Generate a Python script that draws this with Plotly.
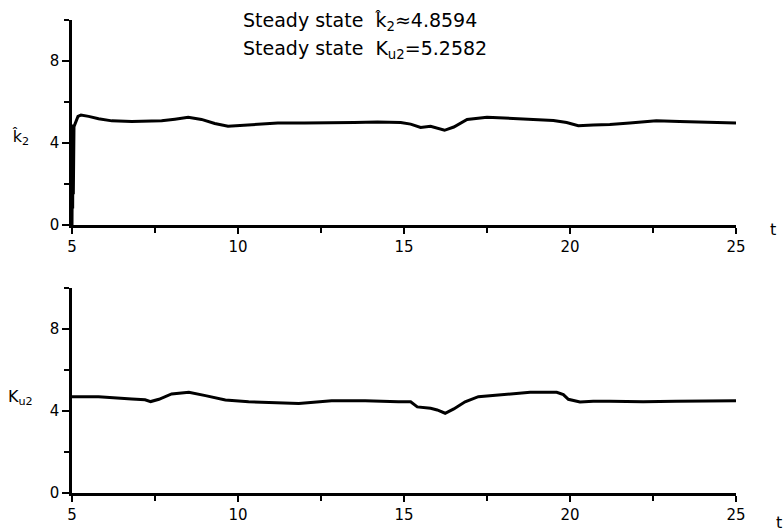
import plotly.graph_objects as go

# k2-hat estimate (top panel)
t_k2 = [5.0, 5.005, 5.01, 5.015, 5.02, 5.03, 5.04, 5.06, 5.1, 5.18, 5.27, 5.5, 5.8, 6.2, 6.8, 7.7, 8.1, 8.5, 8.9, 9.3, 9.7,
        10.3, 11.2, 12.0, 12.7, 13.5, 14.2, 14.9, 15.2, 15.5, 15.8, 16.0, 16.22, 16.5, 16.9, 17.5,
        18.0, 18.5, 19.0, 19.5, 19.9, 20.25, 20.7, 21.2, 21.8, 22.6, 23.3, 24.0, 24.5, 25.0]
k2_hat = [0.0, 4.6, 0.3, 4.9, 0.8, 4.5, 1.5, 4.8, 5.0, 5.3, 5.36, 5.3, 5.18, 5.08, 5.05, 5.08, 5.16, 5.25, 5.15, 4.95, 4.82,
          4.88, 4.97, 4.98, 4.98, 5.0, 5.02, 5.0, 4.92, 4.76, 4.82, 4.72, 4.62, 4.78, 5.15, 5.26,
          5.22, 5.15, 5.12, 5.1, 5.0, 4.84, 4.88, 4.9, 4.98, 5.08, 5.05, 5.03, 5.02, 4.98]

# K_u2 (bottom panel)
t_ku2 = [5.0, 5.8, 6.8, 7.2, 7.37, 7.62, 8.0, 8.52, 9.02, 9.62, 10.32, 11.32, 11.83, 12.82, 13.83, 14.83,
         15.2, 15.4, 15.8, 16.0, 16.24, 16.5, 16.84, 17.24, 17.7, 18.23, 18.8, 19.3, 19.6, 19.8, 19.95,
         20.3, 20.7, 21.2, 22.2, 23.2, 24.2, 25.0]
ku2 = [4.70, 4.70, 4.59, 4.55, 4.46, 4.57, 4.83, 4.91, 4.75, 4.54, 4.45, 4.41, 4.37, 4.50, 4.50, 4.45,
       4.45, 4.20, 4.13, 4.05, 3.89, 4.10, 4.45, 4.70, 4.76, 4.83, 4.91, 4.92, 4.91, 4.80, 4.57,
       4.44, 4.48, 4.48, 4.45, 4.48, 4.50, 4.50]

x_ticks = [5, 10, 15, 20, 25]
y_ticks = [0, 4, 8]

fig = go.Figure()
fig.add_trace(go.Scatter(x=t_k2, y=k2_hat, mode="lines", line=dict(color="black", width=3),
                         xaxis="x", yaxis="y", showlegend=False))
fig.add_trace(go.Scatter(x=t_ku2, y=ku2, mode="lines", line=dict(color="black", width=3),
                         xaxis="x2", yaxis="y2", showlegend=False))

W, H = 784, 531
xdom = [72 / W, 736 / W]
font = dict(family="DejaVu Sans", size=15, color="black")

def xax(anchor):
    return dict(domain=xdom, anchor=anchor, range=[5, 25], tickvals=x_ticks, ticks="outside",
                ticklen=6, tickwidth=2, tickcolor="black", showline=True, linecolor="black",
                linewidth=2.5, showgrid=False, zeroline=False, tickfont=font, automargin=False,
                minor=dict(tickvals=[7.5, 12.5, 17.5, 22.5], ticks="outside", ticklen=5,
                           tickwidth=2, tickcolor="black"))

def yax(anchor, dom):
    return dict(domain=dom, anchor=anchor, range=[0, 10], tickvals=y_ticks, ticks="outside",
                ticklen=7, tickwidth=2, tickcolor="black", showline=True, linecolor="black",
                linewidth=2.5, showgrid=False, zeroline=False, tickfont=font, automargin=False,
                minor=dict(tickvals=[2, 6, 10], ticks="outside", ticklen=5,
                           tickwidth=2, tickcolor="black"))

fig.update_layout(
    template="none",
    width=W, height=H,
    margin=dict(l=0, r=0, t=0, b=0, autoexpand=False),
    paper_bgcolor="white", plot_bgcolor="white",
    xaxis=xax("y"),
    yaxis=yax("x", [1 - 225 / H, 1 - 20 / H]),
    xaxis2=xax("y2"),
    yaxis2=yax("x2", [1 - 493 / H, 1 - 288 / H]),
    font=font,
)

ann_font = dict(family="DejaVu Sans", size=19, color="black")
annotations = [
    dict(x=241 / W, y=1 - 22 / H, text="Steady state  k\u0302<sub>2</sub>\u22484.8594"),
    dict(x=241 / W, y=1 - 50 / H, text="Steady state  K<sub>u2</sub>=5.2582"),
]
for a in annotations:
    fig.add_annotation(xref="paper", yref="paper", xanchor="left", yanchor="middle",
                       showarrow=False, font=ann_font, **a)

for txt, x, y in [("k\u0302<sub>2</sub>", 20, 137), ("K<sub>u2</sub>", 20, 397),
                  ("t", 773, 229), ("t", 779, 522)]:
    fig.add_annotation(xref="paper", yref="paper", x=x / W, y=1 - y / H, xanchor="center",
                       yanchor="middle", showarrow=False, text=txt,
                       font=dict(family="DejaVu Sans", size=16, color="black"))

fig.write_html("out.html", config={"displayModeBar": False},
               post_script="document.body.style.margin='0';document.body.style.padding='0';"
                           "document.body.style.overflow='hidden';")
